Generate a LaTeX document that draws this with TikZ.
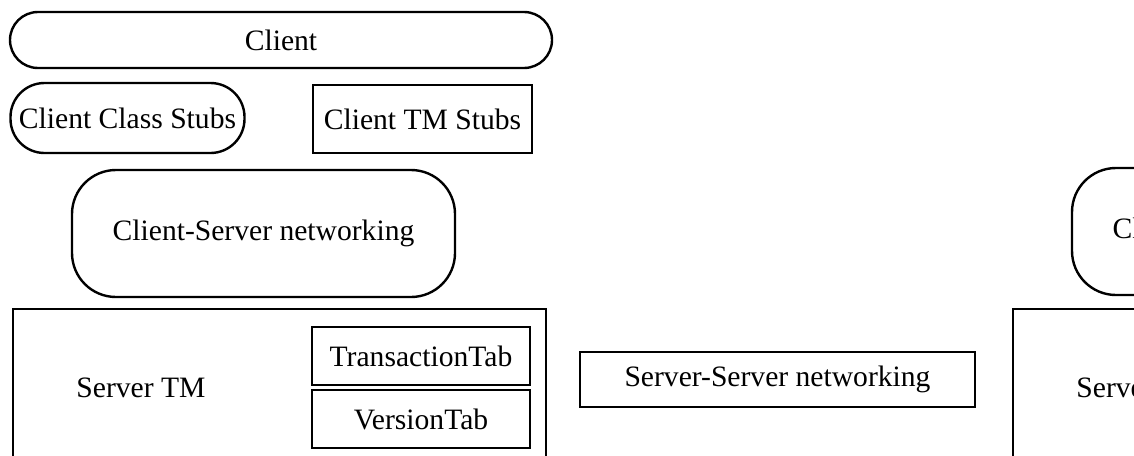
\documentclass[tikz,border=0pt]{standalone}
\usepackage{fontspec}
\setmainfont{Liberation Serif}
\newcommand{\LayerFont}{\fontsize{14.8}{17}\selectfont}
\tikzstyle{Layer}=[draw,line width=1.2pt,inner sep=0pt,font=\LayerFont]
\tikzstyle{LayerRound}=[Layer,rounded corners=14pt]
\tikzstyle{LayerBig}=[Layer,rounded corners=22pt]
\tikzstyle{Tab}=[Layer,minimum width=109pt,minimum height=29pt]
\tikzstyle{LayerST}=[font=\LayerFont]

\begin{document}
\begin{tikzpicture}[x=0.5pt,y=-0.5pt]
        \useasboundingbox(0,0)rectangle(1134,455);
        \clip(0,0)rectangle(1134,455);
        % client side
        \node[LayerRound,minimum width=271pt,minimum height=28pt](client)at(281,40){Client};
        \node[LayerRound,rounded corners=17pt,minimum width=117pt,minimum height=35pt](clstubs)at(127.5,118){Client Class Stubs};
        \node[Layer,minimum width=109.5pt,minimum height=34pt](tmstubs)at(422.5,119){Client TM Stubs};
        \node[LayerBig,minimum width=191.5pt,minimum height=63.5pt](csnet)at(263.5,233.5){Client-Server networking};
        % first server
        \node[Layer,anchor=north west,minimum width=266.5pt,minimum height=92pt](srvtm)at(12,308){};
        \node[LayerST](srvtmlbl)at(141,388){Server TM};
        \node[Tab](trtab)at(421,356){TransactionTab};
        \node[Tab](vtab)at(421,419){VersionTab};
        \node[Layer,minimum width=197.5pt,minimum height=27.5pt](ssnet)at(777.5,379.5){Server-Server networking};
        % second server, cut by the page edge
        \node[LayerBig,minimum width=191.5pt,minimum height=63.5pt](csnetb)at(1263.5,231.5){Client-Server networking};
        \node[Layer,anchor=north west,minimum width=266.5pt,minimum height=92pt](srvtmb)at(1012,308){};
        \node[LayerST](srvtmblbl)at(1141,388){Server TM};
    \end{tikzpicture}
\end{document}
